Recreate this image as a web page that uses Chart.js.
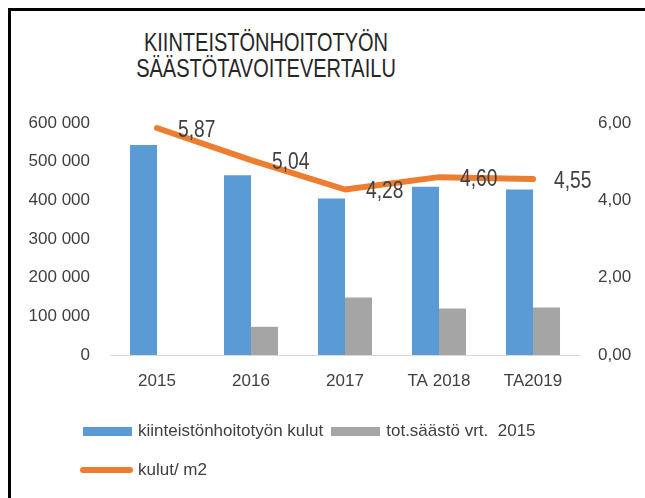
<!DOCTYPE html>
<html>
<head>
<meta charset="utf-8">
<script src="https://cdn.jsdelivr.net/npm/chart.js@4.4.1/dist/chart.umd.min.js"></script>
<style>
  html, body { margin: 0; padding: 0; background: #fff; overflow: hidden; }
  #wrap { position: relative; width: 645px; height: 498px; overflow: hidden; }
  #frame { position: absolute; left: 8px; top: 8px; width: 1000px; height: 1000px;
           border-left: 3px solid #000; border-top: 3px solid #000; }
  #title { position: absolute; left: 0; top: 30px; width: 532px; text-align: center;
           font: 25px/25.5px "Liberation Sans", Arial, sans-serif;
           color: #262626; transform: scaleX(0.8); transform-origin: 50% 0; }
  #chartBox { position: absolute; left: 0; top: 0; width: 645px; height: 498px; }
  .lg-row { position: absolute; display: flex; align-items: center; white-space: pre;
            font: 17px "Liberation Sans", Arial, sans-serif; color: #404040; }
  .lg-item { display: flex; align-items: center; margin-right: 8px; }
  .lg-box { display: inline-block; margin-right: 6px; }
</style>
</head>
<body>
<div id="wrap">
  <div id="frame"></div>
  <div id="title">KIINTEISTÖNHOITOTYÖN<br>SÄÄSTÖTAVOITEVERTAILU</div>
  <div id="chartBox"><canvas id="costChart" width="645" height="498"></canvas></div>
  <div id="legend"></div>
</div>
<script>
// arvot luettu kuvasta
const years = ['2015', '2016', '2017', 'TA 2018', 'TA2019'];
const kulut = [543000, 465000, 405000, 435000, 428000];
const saasto = [null, 73000, 149000, 120000, 123000];
const kulutM2 = [5.87, 5.04, 4.28, 4.60, 4.55];
const leftTicks = [0, 100000, 200000, 300000, 400000, 500000, 600000];
const rightTicks = [0, 2, 4, 6];

const COLORS = {
  kulut: '#5B9BD5',
  saasto: '#A5A5A5',
  m2: '#ED7D31',
};

const TICK_FONT = { family: '"Liberation Sans", Arial, sans-serif', size: 17 };

const thousands = (v) => String(v).replace(/\B(?=(\d{3})+(?!\d))/g, ' ');
const decimals = (v) => Number(v).toFixed(2).replace('.', ',');

// arvot viivan oikealle puolelle (kapea fontti -> skaalataan vaakaan)
const lineLabels = {
  id: 'lineLabels',
  afterDatasetsDraw(chart) {
    const ctx = chart.ctx;
    const sx = 0.8;
    chart.data.datasets.forEach((ds, i) => {
      if (ds.type !== 'line') return;
      const meta = chart.getDatasetMeta(i);
      ctx.save();
      ctx.font = '24px "Liberation Sans", Arial, sans-serif';
      ctx.fillStyle = '#404040';
      ctx.textAlign = 'left';
      ctx.textBaseline = 'middle';
      ctx.scale(sx, 1);
      meta.data.forEach((pt, j) => {
        ctx.fillText(decimals(ds.data[j]), (pt.x + 21) / sx, pt.y + 2);
      });
      ctx.restore();
    });
  },
};

const chart = new Chart(document.getElementById('costChart'), {
  data: {
    labels: years,
    datasets: [
      {
        type: 'bar',
        label: 'kiinteistönhoitotyön kulut',
        data: kulut,
        backgroundColor: COLORS.kulut,
        yAxisID: 'y',
        order: 2,
        categoryPercentage: 0.575,
        barPercentage: 1,
      },
      {
        type: 'bar',
        label: 'tot.säästö vrt.  2015',
        data: saasto,
        backgroundColor: COLORS.saasto,
        yAxisID: 'y',
        order: 2,
        categoryPercentage: 0.575,
        barPercentage: 1,
      },
      {
        type: 'line',
        label: 'kulut/ m2',
        data: kulutM2,
        borderColor: COLORS.m2,
        borderWidth: 6,
        borderCapStyle: 'round',
        borderJoinStyle: 'round',
        pointRadius: 0,
        tension: 0,
        yAxisID: 'y1',
        order: 1,
      },
    ],
  },
  options: {
    responsive: false,
    animation: false,
    layout: { padding: { left: 20, right: 0, top: 123, bottom: 103 } },
    plugins: {
      legend: { display: false },
      title: { display: false },
      tooltip: { enabled: false },
    },
    scales: {
      x: {
        grid: { display: false, drawTicks: false },
        border: { display: true, color: '#D9D9D9', width: 1 },
        ticks: { color: '#404040', font: TICK_FONT, padding: 16, maxRotation: 0 },
        afterFit: (s) => { s.height = 40; },
      },
      y: {
        position: 'left',
        min: 0,
        max: 600000,
        grid: { display: false, drawTicks: false },
        border: { display: false },
        afterBuildTicks: (s) => { s.ticks = leftTicks.map((v) => ({ value: v })); },
        ticks: { color: '#404040', font: TICK_FONT, padding: 20, callback: thousands },
        afterFit: (s) => { s.width = 90; },
      },
      y1: {
        position: 'right',
        min: 0,
        max: 6,
        grid: { display: false, drawTicks: false },
        border: { display: false },
        afterBuildTicks: (s) => { s.ticks = rightTicks.map((v) => ({ value: v })); },
        ticks: { color: '#404040', font: TICK_FONT, padding: 18, callback: decimals },
        afterFit: (s) => { s.width = 65; },
      },
    },
  },
  plugins: [lineLabels],
});

// selite html:nä, rivitys kuten alkuperäisessä
function buildLegend() {
  const rows = [
    { left: 83, top: 431, items: [0, 1] },
    { left: 80, top: 470, items: [2] },
  ];
  const host = document.getElementById('legend');
  rows.forEach((r) => {
    const row = document.createElement('div');
    row.className = 'lg-row';
    row.style.left = r.left + 'px';
    row.style.top = (r.top - 10) + 'px';
    row.style.height = '20px';
    r.items.forEach((idx) => {
      const ds = chart.data.datasets[idx];
      const item = document.createElement('span');
      item.className = 'lg-item';
      const box = document.createElement('span');
      box.className = 'lg-box';
      if (ds.type === 'line') {
        box.style.width = '53px';
        box.style.height = '6px';
        box.style.borderRadius = '3px';
        box.style.background = ds.borderColor;
        box.style.marginRight = '5px';
      } else {
        box.style.width = '49px';
        box.style.height = '9px';
        box.style.background = ds.backgroundColor;
      }
      const txt = document.createElement('span');
      txt.textContent = ds.label;
      item.appendChild(box);
      item.appendChild(txt);
      row.appendChild(item);
    });
    host.appendChild(row);
  });
}
buildLegend();
</script>
</body>
</html>
